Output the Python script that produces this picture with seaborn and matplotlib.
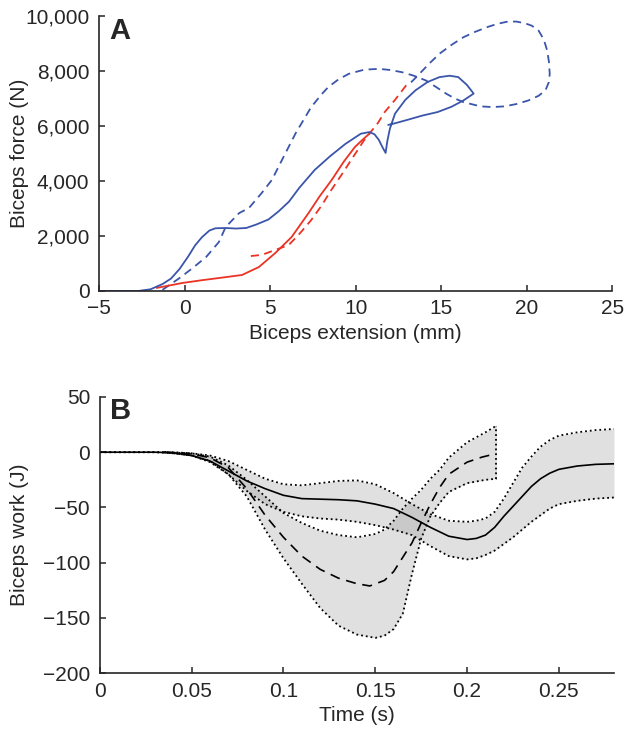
import numpy as np
import matplotlib
matplotlib.use("Agg")
import matplotlib.pyplot as plt
import seaborn as sns
from matplotlib.ticker import FuncFormatter

# ---- panel A: biceps force vs extension
blue_solid_x = [-5.0, -2.7, -2.0, -1.3, -0.8, -0.3, 0.2, 0.6, 1.0, 1.45, 1.8, 2.4, 3.0, 3.6,
                4.2, 4.9, 5.5, 6.1, 6.7, 7.6, 8.5, 9.4, 10.3, 10.8, 11.1, 11.35, 11.55, 11.75,
                11.85, 12.0, 12.3, 12.9, 13.5, 14.2, 14.9, 15.5, 16.0, 16.5, 16.9,
                16.3, 15.6, 14.8, 13.9, 13.0, 12.3, 11.9]
blue_solid_y = [0, 0, 60, 250, 450, 800, 1250, 1650, 1950, 2200, 2280, 2290, 2270, 2290,
                2420, 2600, 2900, 3250, 3750, 4400, 4900, 5350, 5720, 5780, 5700, 5500, 5250, 5020,
                5450, 5900, 6450, 6950, 7300, 7600, 7780, 7830, 7780, 7500, 7180,
                6930, 6700, 6510, 6380, 6220, 6100, 6040]

blue_dash_x = [-1.3, -0.3, 0.5, 1.26, 2.0, 2.4, 3.18, 3.76, 4.5, 5.1, 5.8, 6.5, 7.4, 8.0,
               8.4, 9.0, 9.6, 10.5, 11.35, 12.0, 12.7, 13.4, 14.1, 14.7, 15.3, 15.8, 16.3,
               17.3, 18.0, 18.7, 19.4, 20.1, 20.7, 21.1, 21.3, 21.35, 21.3, 21.2, 21.0, 20.7,
               20.3, 19.9, 19.4, 18.9, 18.3, 17.7, 17.0, 16.3, 15.6, 14.9, 14.3, 13.7, 13.1]
blue_dash_y = [40, 470, 850, 1240, 1780, 2330, 2830, 3020, 3560, 4040, 4900, 5750, 6690, 7150,
               7420, 7700, 7900, 8050, 8080, 8040, 7960, 7830, 7660, 7420, 7175, 7000, 6870,
               6715, 6690, 6715, 6800, 6930, 7100, 7300, 7600, 7900, 8350, 8750, 9150, 9470,
               9650, 9740, 9800, 9800, 9720, 9600, 9430, 9230, 8950, 8630, 8270, 7880, 7500]

red_solid_x = [-1.64, -0.13, 1.0, 2.0, 3.35, 4.34, 5.3, 6.25, 7.24, 7.9, 8.6, 9.3, 9.96, 10.4, 10.8]
red_solid_y = [110, 290, 390, 470, 580, 870, 1380, 1960, 2830, 3450, 4040, 4700, 5240, 5500, 5720]

red_dash_x = [3.87, 4.5, 5.3, 6.08, 6.66, 7.06, 7.4, 8.0, 8.57, 9.2, 9.73, 10.5, 11.3, 11.7, 12.3, 13.1]
red_dash_y = [1270, 1310, 1490, 1670, 2040, 2330, 2580, 3100, 3670, 4250, 4760, 5490, 6110, 6510, 6950, 7600]

# ---- panel B: biceps work vs time
t1 = [0.0, 0.03, 0.04, 0.05, 0.06, 0.07, 0.08, 0.09, 0.10, 0.11, 0.12, 0.13, 0.14, 0.15,
      0.16, 0.17, 0.18, 0.19, 0.20, 0.205, 0.21, 0.215, 0.22, 0.225, 0.23, 0.235, 0.24,
      0.245, 0.25, 0.26, 0.27, 0.28]
work1 = [0, 0, -0.5, -3, -8, -17, -26, -33, -39, -42, -42.5, -43, -44, -47,
         -51, -59, -68, -76, -79, -78, -75, -68, -58, -49, -40, -31, -24,
         -19, -15.5, -12.5, -11, -10.5]
work1_hi = [0, 0, 0, -1, -3, -8, -16, -24, -29, -30, -28, -26, -25.5, -29,
            -37, -47, -56, -62, -63, -62, -60, -54, -42, -28, -14, -4, 5,
            11, 15, 18, 20, 21]
work1_lo = [0, 0, -1, -3, -9, -20, -35, -47, -54, -58, -60, -61, -63, -66,
            -70, -75, -85, -94, -97, -96, -93, -89, -83, -77, -70, -63, -57,
            -51, -47, -44, -42, -41]

t2 = [0.035, 0.05, 0.06, 0.07, 0.08, 0.09, 0.10, 0.11, 0.12, 0.13, 0.14, 0.147, 0.155,
      0.16, 0.165, 0.17, 0.175, 0.18, 0.185, 0.19, 0.20, 0.208, 0.214]
work2 = [0, -1.5, -5, -14, -33, -57, -77, -94, -106, -114, -119, -121, -116,
         -108, -95, -82, -64, -47, -32, -20, -9, -4.5, -2]
t2_band = [0.035, 0.05, 0.06, 0.07, 0.08, 0.09, 0.10, 0.11, 0.12, 0.13, 0.14, 0.15, 0.155,
           0.16, 0.165, 0.17, 0.175, 0.18, 0.185, 0.19, 0.20, 0.21, 0.216]
work2_hi = [0, -1, -4, -12, -25, -40, -55, -64, -71, -75, -77, -74, -70,
            -62, -51, -42, -34, -24, -16, -5, 9, 18, 24]
work2_lo = [0, -3, -8, -20, -40, -70, -96, -119, -141, -157, -165, -168, -166,
            -160, -146, -110, -78, -58, -46, -36, -28, -25, -24]

BLUE = "#3b55ab"
RED = "#ea3324"

sns.set_style("ticks")
plt.rcParams["font.family"] = ["Liberation Sans", "DejaVu Sans"]
plt.rcParams["font.size"] = 15

fig = plt.figure(figsize=(6.24, 7.31), dpi=100)
axA = fig.add_axes([0.159, 0.602, 0.822, 0.376])
axB = fig.add_axes([0.160, 0.079, 0.824, 0.378])

dash = (0, (4.5, 3))

sns.lineplot(x=blue_dash_x, y=blue_dash_y, sort=False, estimator=None, ax=axA,
             color=BLUE, lw=1.3, linestyle=dash)
sns.lineplot(x=red_dash_x, y=red_dash_y, sort=False, estimator=None, ax=axA,
             color=RED, lw=1.3, linestyle=dash)
sns.lineplot(x=red_solid_x, y=red_solid_y, sort=False, estimator=None, ax=axA,
             color=RED, lw=1.3)
sns.lineplot(x=blue_solid_x, y=blue_solid_y, sort=False, estimator=None, ax=axA,
             color=BLUE, lw=1.3)

axA.set_xlim(-5, 25)
axA.set_ylim(0, 10000)
axA.set_xticks([-5, 0, 5, 10, 15, 20, 25])
axA.set_yticks([0, 2000, 4000, 6000, 8000, 10000])
axA.yaxis.set_major_formatter(FuncFormatter(lambda v, p: f"{int(v):,}"))
axA.set_xlabel("Biceps extension (mm)", labelpad=4)
axA.set_ylabel("Biceps force (N)")
axA.yaxis.set_label_coords(-0.136, 0.5)
axA.text(0.02, 0.995, "A", transform=axA.transAxes, fontsize=21, fontweight="bold",
         va="top", ha="left")

# panel B
axB.fill_between(t1, work1_lo, work1_hi, color="0.5", alpha=0.24, lw=0)
axB.fill_between(t2_band, work2_lo, work2_hi, color="0.5", alpha=0.24, lw=0)
for hi_lo in (work1_hi, work1_lo):
    sns.lineplot(x=t1, y=hi_lo, sort=False, estimator=None, ax=axB, color="k",
                 lw=1.3, linestyle=":")
for hi_lo in (work2_hi, work2_lo):
    sns.lineplot(x=t2_band, y=hi_lo, sort=False, estimator=None, ax=axB, color="k",
                 lw=1.3, linestyle=":")
axB.plot([t2_band[-1], t2_band[-1]], [work2_lo[-1], work2_hi[-1]], color="k", lw=1.3, ls=":")
sns.lineplot(x=t1, y=work1, sort=False, estimator=None, ax=axB, color="k", lw=1.2)
sns.lineplot(x=t2, y=work2, sort=False, estimator=None, ax=axB, color="k", lw=1.2,
             linestyle=(0, (6, 4)))

axB.set_xlim(0, 0.28)
axB.set_ylim(-200, 50)
axB.set_xticks([0, 0.05, 0.1, 0.15, 0.2, 0.25])
axB.set_xticklabels(["0", "0.05", "0.1", "0.15", "0.2", "0.25"])
axB.set_yticks([-200, -150, -100, -50, 0, 50])
axB.set_xlabel("Time (s)", labelpad=4)
axB.set_ylabel("Biceps work (J)")
axB.yaxis.set_label_coords(-0.138, 0.5)
axB.text(0.02, 1.0, "B", transform=axB.transAxes, fontsize=21, fontweight="bold",
         va="top", ha="left")

for ax in (axA, axB):
    sns.despine(ax=ax)
    ax.spines["left"].set_linewidth(1.2)
    ax.spines["bottom"].set_linewidth(1.2)
    ax.tick_params(direction="in", length=4, width=1.1, labelsize=15)
    ax.tick_params(axis="y", pad=7)
    ax.tick_params(axis="x", pad=6)

fig.savefig("out.png", dpi=100)
